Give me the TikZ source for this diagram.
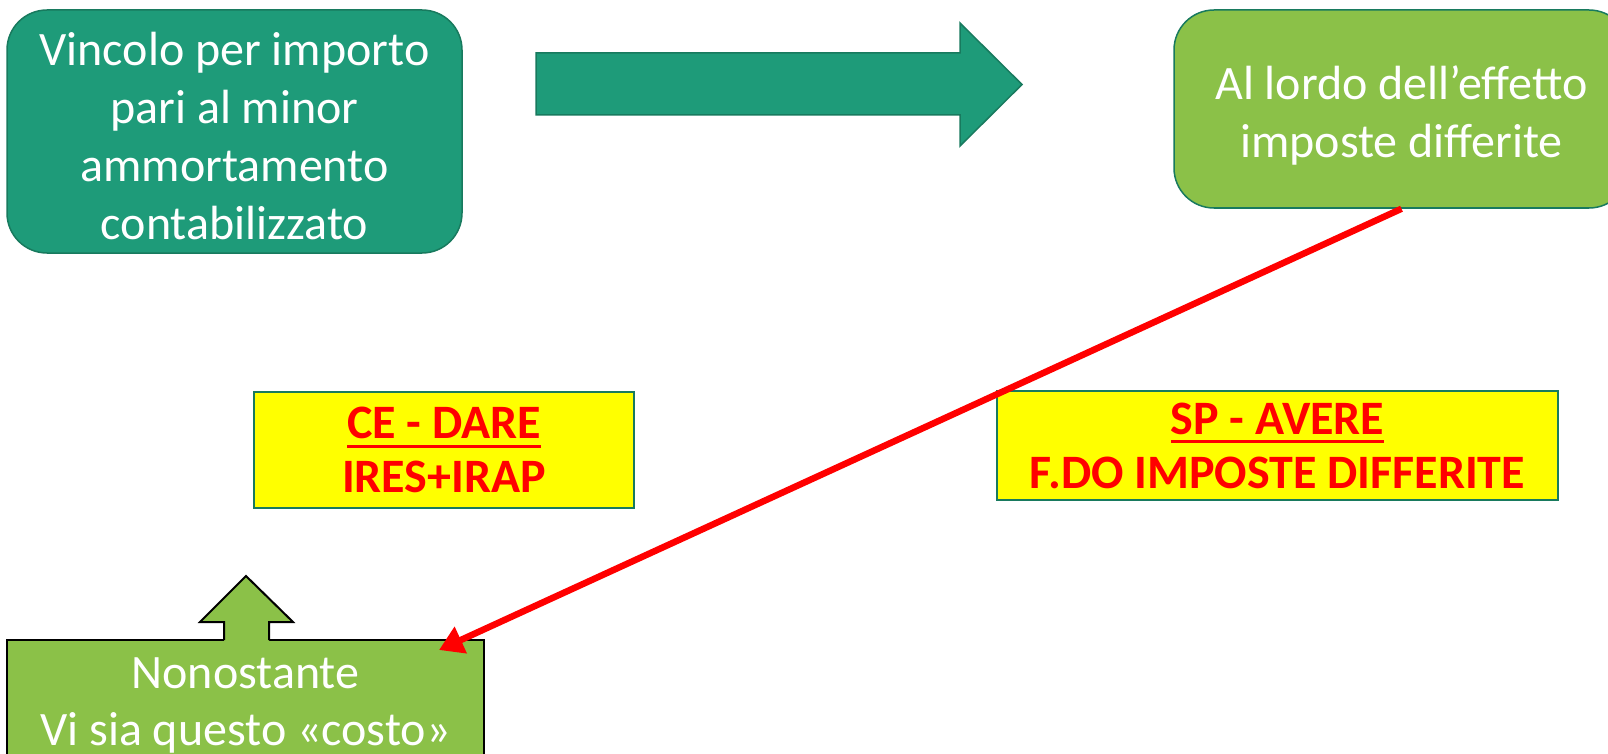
\documentclass[tikz,border=0pt]{standalone}
\usepackage{fontspec}
\setmainfont{Carlito}
\usetikzlibrary{arrows.meta}
\definecolor{teal}{HTML}{1E9B79}
\definecolor{tealdark}{HTML}{187A5E}
\definecolor{leaf}{HTML}{8BC148}
\definecolor{lemon}{HTML}{FFFF00}
\definecolor{alert}{HTML}{FF0000}
% thick underline drawn in the current text colour
\newcommand{\redline}[1]{\setbox0\hbox{#1}\leavevmode\rlap{\rule[-9pt]{\wd0}{3pt}}\box0}
\tikzset{
  tealbox/.style={draw=tealdark, line width=1.5pt, fill=teal, rounded corners=40pt, inner sep=0pt},
  leafbox/.style={draw=tealdark, line width=1.5pt, fill=leaf, rounded corners=40pt, inner sep=0pt},
  whitetext/.style={text=white, align=center, font=\fontsize{48}{58}\selectfont, inner sep=0pt},
  notebox/.style={draw=tealdark, line width=2pt, fill=lemon, text=alert,
    align=center, font=\bfseries\fontsize{48}{54}\selectfont, inner sep=0pt},
  plainbox/.style={draw=black, line width=2pt, fill=leaf, text=white,
    align=center, font=\fontsize{48}{57}\selectfont, inner sep=0pt},
  redlink/.style={draw=alert, line width=6.5pt, -{Triangle[length=24pt,width=28pt]}}
}
\begin{document}
\begin{tikzpicture}[x=1pt,y=-1pt]
  \clip (0,0) rectangle (1608,754);
  \fill[white] (0,0) rectangle (1608,754);

  % top-left rounded box
  \node[tealbox, minimum width=455pt, minimum height=243pt] (vincolo) at (234.5,131.5) {};
  \node[whitetext] (vincolotext) at ([yshift=-5pt]vincolo.center)
    {Vincolo per importo\\pari al minor\\ammortamento\\contabilizzato};

  % block arrow pointing right
  \draw[tealdark, fill=teal, line width=1.5pt]
    (536,53) -- (960,53) -- (960,23) -- (1022,84.5) -- (960,146) -- (960,115) -- (536,115) -- cycle;

  % top-right rounded box, partly beyond the right border
  \node[leafbox, minimum width=455pt, minimum height=198pt] (lordo) at (1401.5,109) {};
  \node[whitetext] (lordotext) at ([yshift=-6pt]lordo.center)
    {Al lordo dell’effetto\\imposte differite};

  % yellow account labels
  \node[notebox, minimum width=380pt, minimum height=116pt] (ce) at (444,450)
    {\redline{CE - DARE}\\IRES+IRAP};
  \node[notebox, minimum width=561pt, minimum height=109pt] (sp) at (1277.5,445.5)
    {\redline{SP - AVERE}\\F.DO IMPOSTE DIFFERITE};

  % bottom box with the upward block arrow on top
  \node[plainbox, minimum width=477pt, minimum height=130pt] (nonostante) at (245.5,705)
    {Nonostante\\Vi sia questo «costo»};
  \fill[leaf] (224,622) -- (200,622) -- (246,576) -- (293,622) -- (269,622) -- (269,642) -- (224,642) -- cycle;
  \draw[black, line width=2pt, line join=miter]
    (224,640) -- (224,622) -- (200,622) -- (246,576) -- (293,622) -- (269,622) -- (269,640);

  % red connector
  \coordinate (tip) at (439,650);
  \draw[redlink] (lordo.south) -- (tip);
\end{tikzpicture}
\end{document}
